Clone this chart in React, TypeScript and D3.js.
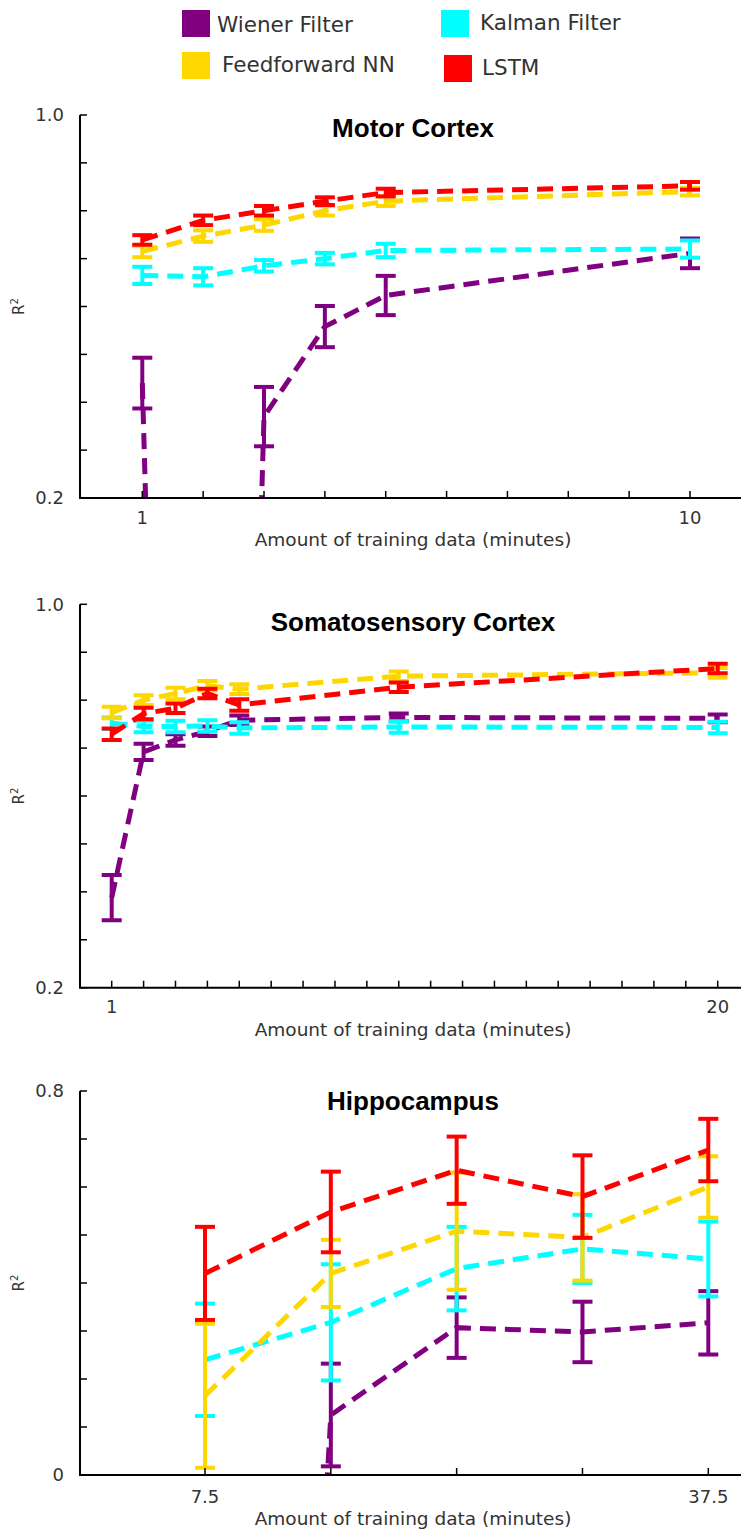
import React from "react";
import * as d3 from "d3";

const seriesNames = ["Wiener Filter", "Kalman Filter", "Feedforward NN", "LSTM"];
const seriesColors = ["#800080", "#00ffff", "#ffd700", "#ff0000"];

// Motor cortex
const motorMinutes = [1, 2, 3, 4, 5, 10];
const motorWiener = [0.44, -4, 0.37, 0.558, 0.623, 0.711];
const motorWienerErr = [0.053, 0.5, 0.062, 0.043, 0.041, 0.031];
const motorKalman = [0.665, 0.662, 0.685, 0.7, 0.717, 0.72];
const motorKalmanErr = [0.018, 0.018, 0.012, 0.012, 0.014, 0.018];
const motorFF = [0.715, 0.747, 0.77, 0.8, 0.82, 0.84];
const motorFFErr = [0.012, 0.012, 0.012, 0.01, 0.01, 0.008];
const motorLSTM = [0.739, 0.78, 0.8, 0.82, 0.838, 0.852];
const motorLSTMErr = [0.01, 0.01, 0.01, 0.008, 0.008, 0.008];

// Somatosensory cortex
const somatoMinutes = [1, 2, 3, 4, 5, 10, 20];
const somatoWiener = [0.388, 0.692, 0.717, 0.735, 0.758, 0.764, 0.762];
const somatoWienerErr = [0.047, 0.017, 0.012, 0.01, 0.01, 0.008, 0.008];
const somatoKalman = [0.752, 0.745, 0.745, 0.746, 0.742, 0.744, 0.743];
const somatoKalmanErr = [0.012, 0.012, 0.012, 0.012, 0.012, 0.012, 0.012];
const somatoFF = [0.774, 0.8, 0.814, 0.83, 0.823, 0.85, 0.857];
const somatoFFErr = [0.012, 0.01, 0.012, 0.01, 0.01, 0.01, 0.01];
const somatoLSTM = [0.729, 0.772, 0.783, 0.814, 0.79, 0.827, 0.866];
const somatoLSTMErr = [0.012, 0.012, 0.01, 0.01, 0.012, 0.01, 0.01];

// Hippocampus
const hippoMinutes = [7.5, 15, 22.5, 30, 37.5];
const hippoWiener = [-4.5, 0.125, 0.307, 0.298, 0.317];
const hippoWienerErr = [0.5, 0.107, 0.063, 0.063, 0.066];
const hippoKalman = [0.24, 0.318, 0.43, 0.471, 0.45];
const hippoKalmanErr = [0.117, 0.121, 0.087, 0.071, 0.078];
const hippoFF = [0.165, 0.42, 0.508, 0.495, 0.6];
const hippoFFErr = [0.15, 0.07, 0.122, 0.09, 0.064];
const hippoLSTM = [0.42, 0.548, 0.635, 0.58, 0.677];
const hippoLSTMErr = [0.097, 0.084, 0.07, 0.086, 0.065];

const motorTicks = d3.range(1, 11);
const somatoTicks = d3.range(1, 21);
const hippoTicks = hippoMinutes;

const W = 741;
const H = 1531;
const AXIS_X = 80;
const FONT = "'DejaVu Sans', sans-serif";
const TITLE_FONT = "'Liberation Sans', Arial, sans-serif";

type Spec = {
  id: string;
  title: string;
  minutes: number[];
  values: number[][];
  errs: number[][];
  xDomain: [number, number];
  xRange: [number, number];
  xTicks: number[];
  xLabels: [number, string][];
  yDomain: [number, number];
  yLabels: [number, string][];
  top: number;
  bottom: number;
  titleY: number;
  tickY: number;
  labelY: number;
};

const Panel = ({ s }: { s: Spec }) => {
  const x = d3.scaleLinear().domain(s.xDomain).range(s.xRange);
  const y = d3.scaleLinear().domain(s.yDomain).range([s.bottom, s.top]);
  const line = d3
    .line<number>()
    .x((_, i) => x(s.minutes[i]))
    .y((d) => y(d));
  const cap = 10;

  return (
    <g>
      <defs>
        <clipPath id={"clip-" + s.id}>
          <rect x={AXIS_X} y={s.top - 30} width={W - AXIS_X} height={s.bottom - s.top + 30} />
        </clipPath>
      </defs>
      <g clipPath={`url(#clip-${s.id})`}>
        {s.values.map((vals, k) => (
          <g key={k}>
            <path
              d={line(vals) || ""}
              fill="none"
              stroke={seriesColors[k]}
              strokeWidth={5}
              strokeDasharray="16 9"
            />
            {vals.map((v, i) => {
              const cx = x(s.minutes[i]);
              const y0 = y(v - s.errs[k][i]);
              const y1 = y(v + s.errs[k][i]);
              return (
                <g key={i} stroke={seriesColors[k]} strokeWidth={4}>
                  <line x1={cx} x2={cx} y1={y0} y2={y1} />
                  <line x1={cx - cap} x2={cx + cap} y1={y0} y2={y0} />
                  <line x1={cx - cap} x2={cx + cap} y1={y1} y2={y1} />
                </g>
              );
            })}
          </g>
        ))}
      </g>
      {/* axes */}
      <line x1={AXIS_X} x2={AXIS_X} y1={s.top} y2={s.bottom} stroke="#000" strokeWidth={2} />
      <line x1={AXIS_X - 1} x2={W} y1={s.bottom} y2={s.bottom} stroke="#000" strokeWidth={2} />
      {y.ticks(8).map((t, i) => (
        <line key={i} x1={AXIS_X} x2={AXIS_X + 7} y1={y(t)} y2={y(t)} stroke="#000" strokeWidth={1.5} />
      ))}
      {s.xTicks.map((t, i) => (
        <line key={i} x1={x(t)} x2={x(t)} y1={s.bottom} y2={s.bottom - 7} stroke="#000" strokeWidth={1.5} />
      ))}
      {s.yLabels.map(([v, lab]) => (
        <text key={lab} x={AXIS_X - 16} y={y(v)} dy="0.36em" textAnchor="end" fontFamily={FONT} fontSize={18} fill="#333">
          {lab}
        </text>
      ))}
      {s.xLabels.map(([v, lab]) => (
        <text key={lab} x={x(v)} y={s.tickY} textAnchor="middle" fontFamily={FONT} fontSize={18} fill="#333">
          {lab}
        </text>
      ))}
      <text x={413} y={s.labelY} textAnchor="middle" fontFamily={FONT} fontSize={18.5} fill="#333">
        Amount of training data (minutes)
      </text>
      <text
        transform={`translate(24,${(s.top + s.bottom) / 2}) rotate(-90)`}
        textAnchor="middle"
        fontFamily={FONT}
        fontSize={15}
        fill="#333"
      >
        R<tspan fontSize={10} dy={-6}>2</tspan>
      </text>
      <text x={413} y={s.titleY} textAnchor="middle" fontFamily={TITLE_FONT} fontWeight="bold" fontSize={26} fill="#000">
        {s.title}
      </text>
    </g>
  );
};

const panels: Spec[] = [
  {
    id: "motor",
    title: "Motor Cortex",
    minutes: motorMinutes,
    values: [motorWiener, motorKalman, motorFF, motorLSTM],
    errs: [motorWienerErr, motorKalmanErr, motorFFErr, motorLSTMErr],
    xDomain: [1, 10],
    xRange: [142.3, 690],
    xTicks: motorTicks,
    xLabels: [[1, "1"], [10, "10"]],
    yDomain: [0.2, 1.0],
    yLabels: [[0.2, "0.2"], [1.0, "1.0"]],
    top: 115,
    bottom: 498,
    titleY: 137,
    tickY: 524,
    labelY: 546,
  },
  {
    id: "somato",
    title: "Somatosensory Cortex",
    minutes: somatoMinutes,
    values: [somatoWiener, somatoKalman, somatoFF, somatoLSTM],
    errs: [somatoWienerErr, somatoKalmanErr, somatoFFErr, somatoLSTMErr],
    xDomain: [1, 20],
    xRange: [111.7, 717.7],
    xTicks: somatoTicks,
    xLabels: [[1, "1"], [20, "20"]],
    yDomain: [0.2, 1.0],
    yLabels: [[0.2, "0.2"], [1.0, "1.0"]],
    top: 604.3,
    bottom: 987.7,
    titleY: 631,
    tickY: 1013,
    labelY: 1036,
  },
  {
    id: "hippo",
    title: "Hippocampus",
    minutes: hippoMinutes,
    values: [hippoWiener, hippoKalman, hippoFF, hippoLSTM],
    errs: [hippoWienerErr, hippoKalmanErr, hippoFFErr, hippoLSTMErr],
    xDomain: [7.5, 37.5],
    xRange: [205, 708.3],
    xTicks: hippoTicks,
    xLabels: [[7.5, "7.5"], [37.5, "37.5"]],
    yDomain: [0, 0.8],
    yLabels: [[0, "0"], [0.8, "0.8"]],
    top: 1091,
    bottom: 1475,
    titleY: 1110,
    tickY: 1503,
    labelY: 1525,
  },
];

// legend layout: [square x, square y, text x, text baseline]
const legendPos = [
  [182, 10, 217, 32],
  [441, 10, 480, 30],
  [182, 52, 222, 72],
  [444, 55, 482, 75],
];

function App() {
  return (
    <div style={{ position: "absolute", left: 0, top: 0 }}>
      <svg width={W} height={H} style={{ display: "block", background: "#fff" }}>
        {seriesNames.map((name, k) => (
          <g key={name}>
            <rect x={legendPos[k][0]} y={legendPos[k][1]} width={28} height={27} fill={seriesColors[k]} />
            <text x={legendPos[k][2]} y={legendPos[k][3]} fontFamily={FONT} fontSize={21.5} fill="#333">
              {name}
            </text>
          </g>
        ))}
        {panels.map((p) => (
          <Panel key={p.id} s={p} />
        ))}
      </svg>
    </div>
  );
}

export default App;
